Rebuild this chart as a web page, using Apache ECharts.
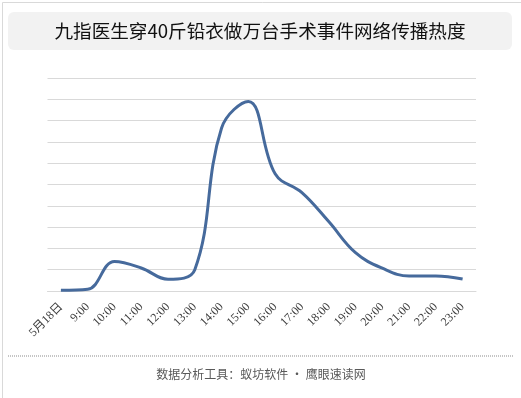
<!DOCTYPE html>
<html>
<head>
<meta charset="utf-8">
<script src="https://cdn.jsdelivr.net/npm/echarts@6/dist/echarts.min.js"></script>
<style>
html,body{margin:0;padding:0;background:#fff;}
#c{width:521px;height:398px;}
</style>
</head>
<body>
<div id="c"></div>
<script>
var titleText = '九指医生穿40斤铅衣做万台手术事件网络传播热度';
var footerText = '数据分析工具：蚁坊软件 · 鹰眼速读网';
var categories = ['5月18日','9:00','10:00','11:00','12:00','13:00','14:00','15:00','16:00','17:00','18:00','19:00','20:00','21:00','22:00','23:00'];
var heatValues = [0.03, 0.08, 1.38, 1.08, 0.55, 1.0, 7.65, 8.9, 5.5, 4.62, 3.26, 1.8, 1.07, 0.7, 0.7, 0.56];

var chart = echarts.init(document.getElementById('c'), null, {renderer:'canvas'});
chart.setOption({
  animation: false,
  backgroundColor: '#fff',
  grid: {left: 47.5, right: 45, top: 78, bottom: 107, containLabel: false},
  xAxis: {
    type: 'category',
    data: categories,
    boundaryGap: true,
    axisLine: {show: true, lineStyle: {color: '#d9d9d9', width: 1}},
    axisTick: {show: false},
    axisLabel: {
      rotate: 45, interval: 0, margin: 14,
      color: '#404040', fontSize: 12,
      fontFamily: '"Liberation Serif","Noto Sans CJK SC",serif'
    }
  },
  yAxis: {
    type: 'value', min: 0, max: 10, interval: 1,
    axisLabel: {show: false},
    axisLine: {show: false},
    axisTick: {show: false},
    splitLine: {lineStyle: {color: '#d9d9d9', width: 1}}
  },
  series: [{
    type: 'line',
    data: heatValues,
    smooth: 0.4,
    symbol: 'none',
    lineStyle: {color: '#466a9c', width: 3}
  }],
  graphic: [
    {type: 'rect', left: 0, top: 0, shape: {x: 0.5, y: 0.5, width: 520, height: 397}, style: {fill: 'none', stroke: '#d9d9d9', lineWidth: 1}, silent: true},
    {type: 'rect', shape: {x: 8, y: 12, width: 504, height: 38, r: 6}, style: {fill: '#f2f2f2'}, silent: true},
    {type: 'text', x: 260, y: 31, style: {text: titleText, fill: '#111', font: '18.6px "Noto Sans CJK SC", sans-serif', textAlign: 'center', textVerticalAlign: 'middle'}, silent: true},
    {type: 'line', shape: {x1: 8, y1: 356, x2: 513, y2: 356}, style: {stroke: '#8c8c8c', lineWidth: 1, lineDash: [1, 1]}, silent: true},
    {type: 'text', x: 261, y: 374, style: {text: footerText, fill: '#595959', font: '12px "Noto Sans CJK SC", sans-serif', textAlign: 'center', textVerticalAlign: 'middle'}, silent: true}
  ]
});
</script>
</body>
</html>
